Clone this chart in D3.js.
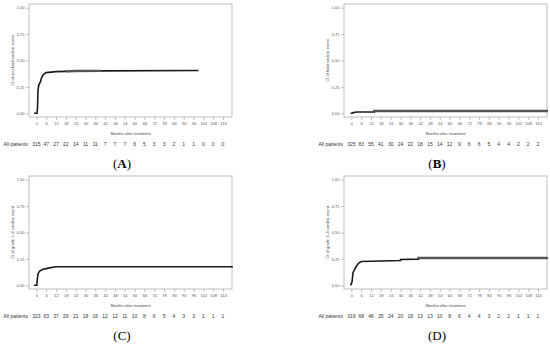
<!DOCTYPE html>
<html>
<head>
<meta charset="utf-8">
<script src="https://cdn.jsdelivr.net/npm/d3@7"></script>
<style>
  body { margin: 0; background: #fff; }
  svg { display: block; }
  .tick-label { font-family: "Liberation Sans", Arial, sans-serif; font-size: 4px; fill: #555; }
  .axis-title { font-family: "Liberation Sans", Arial, sans-serif; font-size: 4px; fill: #444; }
  .risk { font-family: "Liberation Sans", Arial, sans-serif; font-size: 5px; fill: #333; }
  .panel-tag { font-family: "Liberation Serif", "Times New Roman", serif; font-size: 13px; fill: #000; }
</style>
</head>
<body>
<div id="chart"></div>
<script>
// Cumulative incidence curves, four panels

const months = d3.range(0, 115, 6); // 0, 6, ..., 114
const yTicks = [0, 0.25, 0.5, 0.75, 1];

const panelTags = ['A', 'B', 'C', 'D'];
const yTitles = [
  'CI of non-fatal cardiac event',
  'CI of fatal cardiac event',
  'CI of grade 1\u20132 cardiac event',
  'CI of grade 3\u20134 cardiac event'
];

// [month, cumulative incidence]
const curveA = [[-1.5, 0], [0.4, 0], [0.7, 0.05], [1, 0.22], [1.5, 0.27], [2.5, 0.3], [3, 0.33],
  [4, 0.36], [5, 0.375], [6, 0.385], [9, 0.39], [12, 0.395], [18, 0.397], [24, 0.4], [40, 0.402], [99, 0.405]];
const curveB = [[-0.5, 0], [0.5, 0.002], [2, 0.01], [4, 0.012], [14, 0.012], [14, 0.022], [120, 0.022]];
const curveC = [[-1.5, 0], [0.3, 0], [0.6, 0.06], [1, 0.11], [2, 0.135], [4, 0.152], [6, 0.158],
  [8, 0.165], [12, 0.175], [120, 0.175]];
const curveD = [[-0.5, 0], [0.4, 0.03], [1, 0.12], [2, 0.15], [3, 0.18], [4.5, 0.21], [6, 0.225],
  [12, 0.228], [30, 0.235], [30, 0.245], [41, 0.248], [41, 0.258], [120, 0.258]];

// where censoring marks pile up into a grey band
const bandFrom = [18, 14, null, 41];
const bandTo = [40, 120, null, 120];

// numbers at risk under each tick
const riskA = [315, 47, 27, 22, 14, 11, 11, 7, 7, 7, 6, 5, 3, 3, 2, 1, 1, 0, 0, 0];
const riskB = [325, 83, 55, 41, 30, 24, 22, 18, 15, 14, 12, 9, 6, 6, 5, 4, 4, 2, 2, 2];
const riskC = [323, 63, 37, 29, 21, 18, 16, 12, 12, 11, 10, 8, 6, 5, 4, 3, 3, 1, 1, 1];
const riskD = [319, 68, 46, 35, 24, 20, 18, 13, 13, 10, 8, 6, 4, 4, 3, 2, 2, 1, 1, 1];

const curves = [curveA, curveB, curveC, curveD];
const risks = [riskA, riskB, riskC, riskD];

const width = 550;
const height = 344;

const svg = d3.select('#chart')
  .append('svg')
  .attr('width', width)
  .attr('height', height);

// box of each panel (relative to panel origin)
const box = { left: 29, right: 232, top: 4, bottom: 117 };

const x = d3.scaleLinear().domain([-4.5, 119.5]).range([box.left, box.right]);
const y = d3.scaleLinear().domain([-0.035, 1.035]).range([box.bottom, box.top]);

const line = d3.line()
  .x(d => x(d[0]))
  .y(d => y(d[1]));

function drawPanel(i) {
  const ox = (i % 2) * 315;
  const oy = Math.floor(i / 2) * 172;
  const g = svg.append('g').attr('transform', `translate(${ox},${oy})`);

  g.append('rect')
    .attr('x', box.left)
    .attr('y', box.top)
    .attr('width', box.right - box.left)
    .attr('height', box.bottom - box.top)
    .attr('fill', 'none')
    .attr('stroke', '#b0b0b0')
    .attr('stroke-width', 0.8);

  // y axis
  const yAxis = d3.axisLeft(y)
    .tickValues(yTicks)
    .tickSize(3)
    .tickPadding(1.5)
    .tickFormat(d3.format('.2f'));
  const ya = g.append('g').attr('transform', `translate(${box.left},0)`).call(yAxis);
  ya.select('.domain').remove();
  ya.selectAll('line').attr('stroke', '#999').attr('stroke-width', 0.6);
  ya.selectAll('text').attr('class', 'tick-label').attr('font-size', null).attr('font-family', null);

  // x axis
  const xAxis = d3.axisBottom(x)
    .tickValues(months)
    .tickSize(3)
    .tickPadding(2.5)
    .tickFormat(d3.format('d'));
  const xa = g.append('g').attr('transform', `translate(0,${box.bottom})`).call(xAxis);
  xa.select('.domain').remove();
  xa.selectAll('line').attr('stroke', '#999').attr('stroke-width', 0.6);
  xa.selectAll('text').attr('class', 'tick-label').attr('font-size', null).attr('font-family', null);

  g.append('text')
    .attr('class', 'axis-title')
    .attr('x', (box.left + box.right) / 2)
    .attr('y', 134.5)
    .attr('text-anchor', 'middle')
    .text('Months after treatment');

  g.append('text')
    .attr('class', 'axis-title')
    .attr('transform', `translate(14,${(box.top + box.bottom) / 2}) rotate(-90)`)
    .attr('text-anchor', 'middle')
    .text(yTitles[i]);

  // curve
  const data = curves[i];
  g.append('path')
    .datum(data)
    .attr('d', line)
    .attr('fill', 'none')
    .attr('stroke', '#1a1a1a')
    .attr('stroke-width', 1.6);

  if (bandFrom[i] !== null) {
    const band = data.filter(d => d[0] >= bandFrom[i] && d[0] <= bandTo[i]);
    g.append('path')
      .datum(band)
      .attr('d', line)
      .attr('fill', 'none')
      .attr('stroke', '#555')
      .attr('stroke-width', 2.4);
  }

  // numbers at risk
  g.append('text')
    .attr('class', 'risk')
    .attr('x', 3.5)
    .attr('y', 146)
    .text('All patients');

  g.selectAll('.risk-n')
    .data(risks[i])
    .enter()
    .append('text')
    .attr('class', 'risk')
    .attr('x', (d, j) => x(months[j]))
    .attr('y', 146)
    .attr('text-anchor', 'middle')
    .text(d => d);

  const tag = g.append('text')
    .attr('class', 'panel-tag')
    .attr('x', 122)
    .attr('y', 168)
    .attr('text-anchor', 'middle');
  tag.append('tspan').text('(');
  tag.append('tspan').attr('font-weight', i < 2 ? 'bold' : 'normal').text(panelTags[i]);
  tag.append('tspan').text(')');
}

[0, 1, 2, 3].forEach(drawPanel);
</script>
</body>
</html>
